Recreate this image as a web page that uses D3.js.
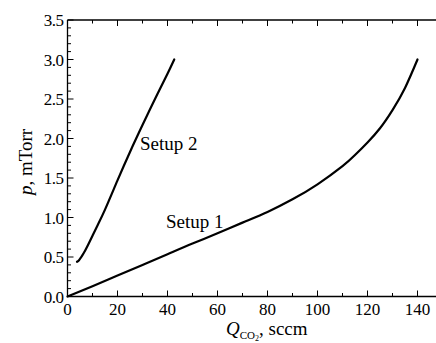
<!DOCTYPE html>
<html>
<head>
<meta charset="utf-8">
<script src="https://cdn.jsdelivr.net/npm/d3@7"></script>
<style>
  body { margin: 0; background: #fff; }
  svg text { font-family: "Liberation Serif", "Times New Roman", "DejaVu Serif", serif; }
</style>
</head>
<body>
<svg id="chart" width="436" height="343" font-family="Liberation Serif, DejaVu Serif, serif"></svg>
<script>
// Setup 1 curve (flow in sccm, pressure in mTorr)
const setup1Q = [0, 10, 20, 30, 40, 50, 60, 70, 80, 90, 100, 110, 115, 120, 125, 130, 135, 140];
const setup1P = [0, 0.13, 0.265, 0.4, 0.535, 0.67, 0.8, 0.935, 1.07, 1.23, 1.42, 1.65, 1.79, 1.95, 2.13, 2.36, 2.64, 3.0];

// Setup 2 curve
const setup2Q = [3.8, 4.6, 5.5, 6.5, 8, 10, 12, 15, 20, 25, 30, 35, 40, 42.7];
const setup2P = [0.44, 0.46, 0.5, 0.55, 0.64, 0.77, 0.9, 1.1, 1.47, 1.83, 2.17, 2.5, 2.82, 3.0];

const xMajor = [0, 20, 40, 60, 80, 100, 120, 140];
const yMajor = [0.0, 0.5, 1.0, 1.5, 2.0, 2.5, 3.0, 3.5];

const chartWidth = 436;
const plotLeft = 67.5, plotTop = 20, plotBottom = 296.5;
const serif = "Liberation Serif, DejaVu Serif, serif";

const svg = d3.select("#chart");

// Scales
const x = d3.scaleLinear().domain([0, 147.5]).range([plotLeft, chartWidth + 0.25]);
const y = d3.scaleLinear().domain([0, 3.5]).range([plotBottom, plotTop]);

// Frame (right side is cut off in the original)
const frame = svg.append("g").attr("stroke", "#000").attr("stroke-width", 1.3).attr("fill", "none");
frame.append("line").attr("x1", plotLeft).attr("x2", plotLeft).attr("y1", plotTop).attr("y2", plotBottom);
frame.append("line").attr("x1", plotLeft).attr("x2", chartWidth).attr("y1", plotTop).attr("y2", plotTop);
frame.append("line").attr("x1", plotLeft).attr("x2", chartWidth).attr("y1", plotBottom).attr("y2", plotBottom);

// Ticks pointing inward
const xMinor = d3.range(10, 141, 20);
const yMinor = d3.range(0, 35).map(i => i / 10).filter(v => Math.round(v * 10) % 5 !== 0);

const ticks = svg.append("g").attr("stroke", "#000").attr("stroke-width", 1);
xMajor.concat(xMinor).forEach(v => {
    let len = xMajor.includes(v) ? 6 : 3.5;
    ticks.append("line").attr("x1", x(v)).attr("x2", x(v)).attr("y1", plotBottom).attr("y2", plotBottom - len);
    ticks.append("line").attr("x1", x(v)).attr("x2", x(v)).attr("y1", plotTop).attr("y2", plotTop + len);
});
yMajor.forEach(v => {
    ticks.append("line").attr("x1", plotLeft).attr("x2", plotLeft + 6).attr("y1", y(v)).attr("y2", y(v));
});
yMinor.forEach(v => {
    ticks.append("line").attr("x1", plotLeft).attr("x2", plotLeft + 3.5).attr("y1", y(v)).attr("y2", y(v));
});

// Tick labels
svg.append("g")
    .selectAll("text")
    .data(xMajor)
    .enter()
    .append("text")
    .attr("x", d => x(d))
    .attr("y", plotBottom + 18)
    .attr("text-anchor", "middle")
    .attr("font-family", serif)
    .attr("font-size", 17)
    .text(d => d);

svg.append("g")
    .selectAll("text")
    .data(yMajor)
    .enter()
    .append("text")
    .attr("x", plotLeft - 4)
    .attr("y", d => y(d) + 6)
    .attr("text-anchor", "end")
    .attr("font-family", serif)
    .attr("font-size", 17)
    .attr("letter-spacing", -0.5)
    .text(d => d.toFixed(1));

// Axis titles
const xTitle = svg.append("text")
    .attr("x", 226)
    .attr("y", 335)
    .attr("font-family", serif)
    .attr("font-size", 19);
xTitle.append("tspan").attr("font-style", "italic").text("Q");
xTitle.append("tspan").attr("font-size", 11).attr("dy", 4).text("CO");
xTitle.append("tspan").attr("font-size", 8).attr("dy", 2).text("2");
xTitle.append("tspan").attr("dy", -6).text(", sccm");

const yTitle = svg.append("text")
    .attr("transform", "translate(32,162) rotate(-90)")
    .attr("text-anchor", "middle")
    .attr("font-family", serif)
    .attr("font-size", 19);
yTitle.append("tspan").attr("font-style", "italic").text("p");
yTitle.append("tspan").text(", mTorr");

// Curves
const line = d3.line()
    .x(d => x(d[0]))
    .y(d => y(d[1]))
    .curve(d3.curveNatural);

[[setup1Q, setup1P], [setup2Q, setup2P]].forEach(([qs, ps]) => {
    svg.append("path")
        .datum(qs.map((q, i) => [q, ps[i]]))
        .attr("fill", "none")
        .attr("stroke", "#000")
        .attr("stroke-width", 2.2)
        .attr("stroke-linecap", "round")
        .attr("d", line);
});

// Curve labels
svg.append("text").attr("x", 166).attr("y", 228).attr("font-family", serif).attr("font-size", 19).text("Setup 1");
svg.append("text").attr("x", 140).attr("y", 150).attr("font-family", serif).attr("font-size", 19).text("Setup 2");
</script>
</body>
</html>
